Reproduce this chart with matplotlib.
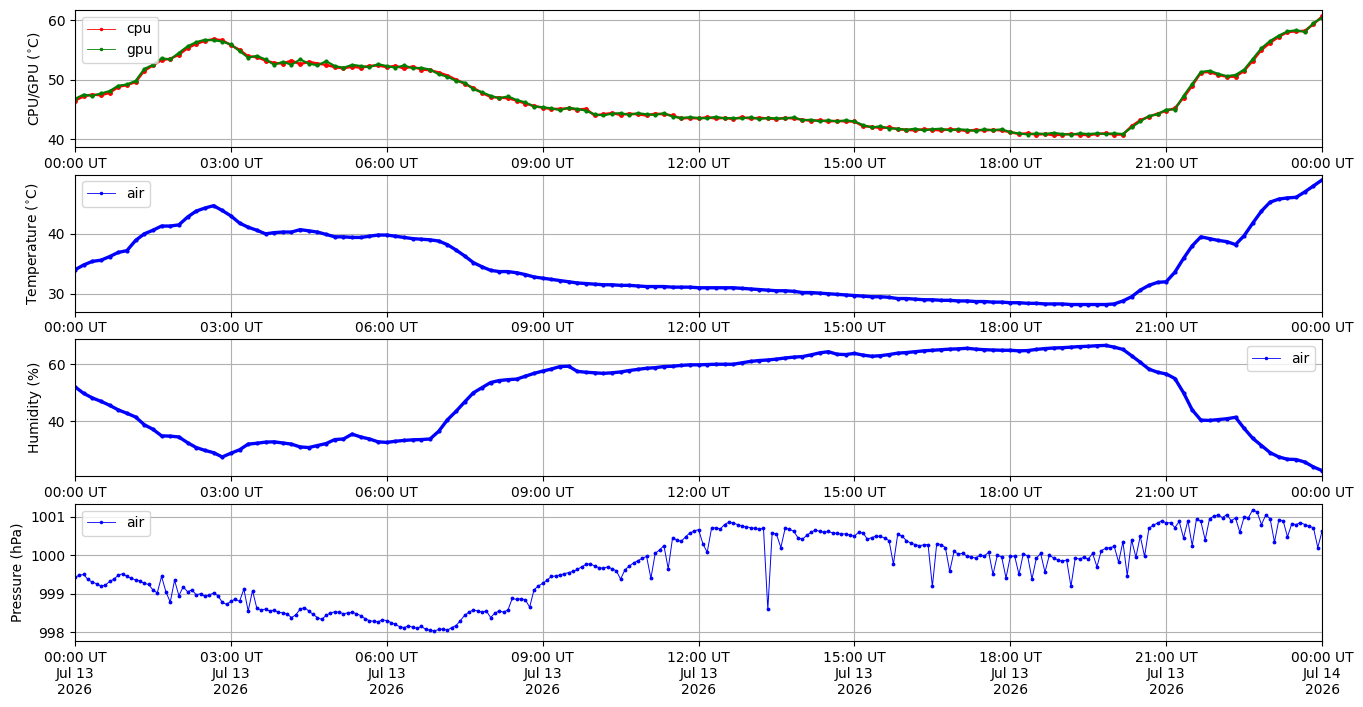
import numpy as np
import pandas as pd
import matplotlib
matplotlib.use("Agg")
from matplotlib import pyplot as plt
from matplotlib.lines import Line2D
import matplotlib.dates as mdates

# sample times: every 10 min for temps/humidity, every 5 min for pressure
t10 = pd.date_range("2026-07-13 00:00", "2026-07-14 00:00", freq="10min")
t5 = pd.date_range("2026-07-13 00:00", "2026-07-14 00:00", freq="5min")

# CPU / GPU temperature (deg C), one row = 2 hours
cpu = [46.5, 47.2, 47.5, 47.4, 47.8, 48.8, 49.1, 49.6, 51.5, 52.4, 53.3, 53.5,
       54.2, 55.3, 56.0, 56.5, 56.8, 56.6, 55.8, 55.0, 53.9, 53.8, 53.2, 52.8,
       52.7, 53.2, 52.6, 53.0, 52.7, 52.5, 52.1, 51.9, 52.2, 52.0, 52.3, 52.4,
       52.1, 52.3, 51.9, 52.2, 51.7, 51.6, 51.2, 50.7, 50.0, 49.3, 48.6, 47.8,
       47.1, 47.0, 46.9, 46.5, 46.0, 45.6, 45.3, 45.1, 45.1, 45.2, 45.0, 45.1,
       44.0, 44.2, 44.4, 44.1, 44.3, 44.2, 44.0, 44.3, 44.2, 44.0, 43.5, 43.6,
       43.5, 43.7, 43.5, 43.6, 43.4, 43.7, 43.5, 43.6, 43.5, 43.4, 43.6, 43.5,
       43.3, 43.1, 43.2, 43.0, 43.1, 43.0, 43.0, 42.2, 42.1, 41.9, 42.0, 41.7,
       41.6, 41.5, 41.7, 41.6, 41.5, 41.7, 41.6, 41.4, 41.6, 41.5, 41.6, 41.5,
       41.2, 40.9, 41.0, 40.8, 40.9, 40.7, 40.8, 40.9, 40.8, 40.7, 40.9, 41.0,
       40.8, 40.8, 42.2, 43.2, 43.8, 44.3, 44.8, 45.2, 47.0, 49.0, 51.2, 51.3,
       50.8, 50.5, 50.5, 51.5, 53.2, 55.0, 56.2, 57.2, 58.0, 58.1, 58.2, 59.3,
       60.6]
gpu = [46.8, 47.5, 47.3, 47.7, 48.1, 49.0, 49.2, 49.8, 51.8, 52.5, 53.6, 53.4,
       54.5, 55.6, 56.3, 56.7, 56.6, 56.4, 55.9, 54.8, 53.7, 54.0, 53.4, 52.5,
       53.0, 52.5, 53.4, 52.7, 52.4, 53.1, 52.3, 52.0, 52.5, 52.3, 52.1, 52.6,
       52.3, 52.0, 52.4, 51.9, 52.0, 51.7, 50.9, 50.5, 49.8, 49.5, 48.4, 47.9,
       47.3, 46.9, 47.2, 46.6, 46.2, 45.5, 45.4, 45.2, 44.9, 45.3, 45.1, 44.8,
       44.2, 44.0, 44.3, 44.4, 44.1, 44.4, 44.2, 44.1, 44.4, 43.8, 43.6, 43.7,
       43.6, 43.5, 43.8, 43.5, 43.6, 43.5, 43.7, 43.4, 43.6, 43.5, 43.5, 43.7,
       43.2, 43.3, 43.0, 43.2, 43.0, 43.2, 43.0, 42.4, 42.0, 42.2, 41.8, 41.8,
       41.6, 41.8, 41.5, 41.7, 41.8, 41.5, 41.7, 41.6, 41.4, 41.7, 41.5, 41.7,
       41.2, 41.0, 40.8, 41.0, 40.9, 41.1, 40.9, 40.8, 41.0, 40.9, 41.0, 40.9,
       41.0, 40.9, 42.0, 43.0, 43.9, 44.2, 45.0, 45.0, 47.3, 49.3, 51.3, 51.5,
       51.0, 50.6, 50.8, 51.7, 53.5, 55.3, 56.5, 57.4, 58.1, 58.3, 58.0, 59.5,
       60.4]

# air temperature (deg C)
air_temp = [34.0, 34.8, 35.4, 35.6, 36.2, 36.9, 37.2, 38.9, 40.0, 40.6, 41.3, 41.3,
            41.5, 42.8, 43.8, 44.3, 44.7, 43.9, 43.0, 41.8, 41.1, 40.6, 40.0, 40.2,
            40.3, 40.3, 40.7, 40.5, 40.3, 39.9, 39.5, 39.5, 39.4, 39.4, 39.6, 39.8,
            39.8, 39.6, 39.4, 39.2, 39.1, 39.0, 38.8, 38.2, 37.3, 36.3, 35.2, 34.5,
            33.9, 33.7, 33.7, 33.5, 33.2, 32.8, 32.6, 32.4, 32.2, 32.0, 31.8, 31.7,
            31.6, 31.5, 31.5, 31.4, 31.4, 31.3, 31.2, 31.2, 31.2, 31.1, 31.1, 31.1,
            31.0, 31.0, 31.0, 31.0, 31.0, 30.9, 30.8, 30.7, 30.6, 30.5, 30.5, 30.4,
            30.2, 30.2, 30.1, 30.0, 29.9, 29.8, 29.7, 29.6, 29.5, 29.5, 29.4, 29.2,
            29.2, 29.1, 29.0, 29.0, 28.9, 28.9, 28.8, 28.8, 28.7, 28.7, 28.6, 28.6,
            28.5, 28.5, 28.4, 28.4, 28.3, 28.3, 28.3, 28.2, 28.2, 28.2, 28.2, 28.2,
            28.3, 28.8, 29.5, 30.6, 31.4, 31.9, 32.0, 33.6, 35.9, 38.0, 39.5, 39.2,
            38.9, 38.7, 38.2, 39.7, 41.8, 43.8, 45.3, 45.8, 46.0, 46.1, 47.0, 48.0,
            49.0]

# humidity (%)
humidity = [52.1, 49.8, 48.2, 47.0, 45.6, 44.0, 42.8, 41.5, 38.8, 37.2, 34.9, 34.8,
            34.5, 32.5, 30.8, 29.8, 29.0, 27.5, 28.8, 30.0, 32.0, 32.3, 32.7, 32.8,
            32.4, 32.0, 31.0, 30.8, 31.5, 32.2, 33.6, 33.8, 35.5, 34.5, 33.8, 32.8,
            32.6, 33.0, 33.3, 33.5, 33.6, 33.8, 36.5, 40.5, 43.5, 46.8, 50.0, 51.8,
            53.6, 54.3, 54.6, 54.8, 55.8, 56.8, 57.6, 58.3, 59.2, 59.3, 57.5, 57.2,
            57.0, 56.8, 57.0, 57.3, 57.8, 58.2, 58.6, 58.8, 59.2, 59.3, 59.6, 59.8,
            59.8, 59.9, 60.0, 60.0, 60.0, 60.5, 61.0, 61.3, 61.5, 61.8, 62.2, 62.5,
            62.7, 63.3, 64.0, 64.4, 63.5, 63.4, 63.8, 63.2, 62.8, 63.0, 63.4, 63.9,
            64.1, 64.4, 64.7, 64.9, 65.1, 65.3, 65.4, 65.6, 65.3, 65.1, 65.0, 64.9,
            64.9, 64.7, 64.8, 65.2, 65.5, 65.7, 65.8, 66.0, 66.2, 66.3, 66.5, 66.6,
            66.0, 65.2, 63.0, 60.7, 58.3, 57.2, 56.6, 55.0, 50.0, 44.0, 40.4, 40.3,
            40.6, 40.9, 41.4, 37.5, 34.0, 31.5, 29.0, 27.5, 26.7, 26.6, 25.7, 24.0,
            22.7]

# pressure (hPa), one row = 1 hour at 5 min
pressure = [999.43, 999.48, 999.50, 999.37, 999.30, 999.26, 999.20, 999.22, 999.32, 999.38, 999.48, 999.52,
            999.45, 999.40, 999.36, 999.33, 999.27, 999.24, 999.10, 999.02, 999.45, 999.05, 998.78, 999.35,
            998.95, 999.18, 999.05, 999.10, 998.97, 999.00, 998.93, 998.96, 999.02, 998.95, 998.78, 998.72,
            998.80, 998.86, 998.80, 999.12, 998.55, 999.08, 998.62, 998.58, 998.60, 998.55, 998.57, 998.52,
            998.50, 998.47, 998.38, 998.45, 998.60, 998.64, 998.55, 998.46, 998.38, 998.33, 998.44, 998.50,
            998.53, 998.52, 998.48, 998.50, 998.52, 998.48, 998.43, 998.35, 998.30, 998.28, 998.27, 998.32,
            998.30, 998.25, 998.20, 998.14, 998.12, 998.16, 998.13, 998.10, 998.15, 998.07, 998.05, 998.03,
            998.07, 998.08, 998.05, 998.12, 998.17, 998.30, 998.44, 998.52, 998.58, 998.55, 998.52, 998.55,
            998.38, 998.50, 998.55, 998.52, 998.58, 998.88, 998.85, 998.87, 998.84, 998.65, 999.10, 999.20,
            999.27, 999.35, 999.45, 999.46, 999.49, 999.52, 999.55, 999.58, 999.63, 999.70, 999.76, 999.78,
            999.72, 999.68, 999.66, 999.70, 999.65, 999.60, 999.38, 999.62, 999.72, 999.80, 999.86, 999.92,
            999.97, 999.40, 1000.05, 1000.14, 1000.25, 999.65, 1000.45, 1000.40, 1000.36, 1000.48, 1000.58, 1000.63,
            1000.67, 1000.30, 1000.08, 1000.70, 1000.72, 1000.68, 1000.80, 1000.86, 1000.84, 1000.80, 1000.76, 1000.74,
            1000.72, 1000.70, 1000.68, 1000.70, 998.59, 1000.58, 1000.55, 1000.20, 1000.70, 1000.68, 1000.62, 1000.45,
            1000.42, 1000.52, 1000.60, 1000.66, 1000.62, 1000.60, 1000.62, 1000.58, 1000.57, 1000.55, 1000.56, 1000.52,
            1000.50, 1000.60, 1000.58, 1000.42, 1000.46, 1000.50, 1000.49, 1000.45, 1000.38, 999.77, 1000.55, 1000.50,
            1000.38, 1000.32, 1000.28, 1000.25, 1000.27, 1000.28, 999.19, 1000.30, 1000.28, 1000.20, 999.58, 1000.10,
            1000.03, 1000.05, 999.98, 999.95, 999.93, 1000.00, 999.98, 1000.08, 999.50, 1000.00, 999.96, 999.41,
            999.97, 999.98, 999.50, 1000.04, 999.98, 999.38, 999.92, 1000.05, 999.56, 1000.00, 999.93, 999.88,
            999.84, 999.88, 999.19, 999.93, 999.90, 999.95, 999.90, 1000.05, 999.70, 1000.12, 1000.18, 1000.20,
            1000.23, 999.82, 1000.35, 999.47, 1000.40, 999.95, 1000.50, 999.97, 1000.70, 1000.78, 1000.84, 1000.90,
            1000.84, 1000.85, 1000.72, 1000.88, 1000.45, 1000.90, 1000.25, 1000.95, 1000.88, 1000.40, 1000.95, 1001.02,
            1001.05, 1000.98, 1001.06, 1000.90, 1000.97, 1000.60, 1001.00, 1000.98, 1001.19, 1001.12, 1000.80, 1001.05,
            1000.95, 1000.34, 1000.92, 1000.90, 1000.48, 1000.82, 1000.80, 1000.85, 1000.80, 1000.75, 1000.72, 1000.20,
            1000.63]


def handle(color, label):
    # thin line + dot, like the legend entries in the original
    return Line2D([], [], color=color, marker=".", markersize=3, linewidth=0.6, label=label)


fig, axes = plt.subplots(4, 1, figsize=(13.63, 7.07), dpi=100)
plt.subplots_adjust(left=0.055, right=0.97, top=0.986, bottom=0.0934, hspace=0.2)
ax1, ax2, ax3, ax4 = axes

# the logged series are dense, so draw them as a thick dotted band
ax1.plot(t10, cpu, color="r", marker=".", markersize=5, linewidth=1.8)
ax1.plot(t10, gpu, color="g", marker=".", markersize=4, linewidth=1.5)
ax1.set_ylabel(r"CPU/GPU ($^{\circ}$C)")
ax1.set_ylim(38.7, 61.7)
ax1.set_yticks([40, 50, 60])
ax1.legend(handles=[handle("r", "cpu"), handle("g", "gpu")], loc="upper left")

ax2.plot(t10, air_temp, color="b", marker=".", markersize=4, linewidth=2.4)
ax2.set_ylabel(r"Temperature ($^{\circ}$C)")
ax2.set_ylim(27.0, 49.9)
ax2.set_yticks([30, 40])
ax2.legend(handles=[handle("b", "air")], loc="upper left")

ax3.plot(t10, humidity, color="b", marker=".", markersize=4, linewidth=2.4)
ax3.set_ylabel("Humidity (%)")
ax3.set_ylim(20.7, 68.8)
ax3.set_yticks([40, 60])
ax3.legend(handles=[handle("b", "air")], loc="upper right")

ax4.plot(t5, pressure, color="b", marker=".", markersize=3.5, linewidth=0.7)
ax4.set_ylabel("Pressure (hPa)")
ax4.set_ylim(997.77, 1001.34)
ax4.set_yticks([998, 999, 1000, 1001])
ax4.legend(handles=[handle("b", "air")], loc="upper left")

for ax in axes:
    ax.set_xlim(t10[0], t10[-1])
    ax.xaxis.set_major_locator(mdates.HourLocator(byhour=range(0, 24, 3)))
    ax.xaxis.set_major_formatter(mdates.DateFormatter("%H:%M UT"))
    ax.grid(True)
ax4.xaxis.set_major_formatter(mdates.DateFormatter("%H:%M UT\n%b %d\n%Y"))

plt.savefig("out.png")
